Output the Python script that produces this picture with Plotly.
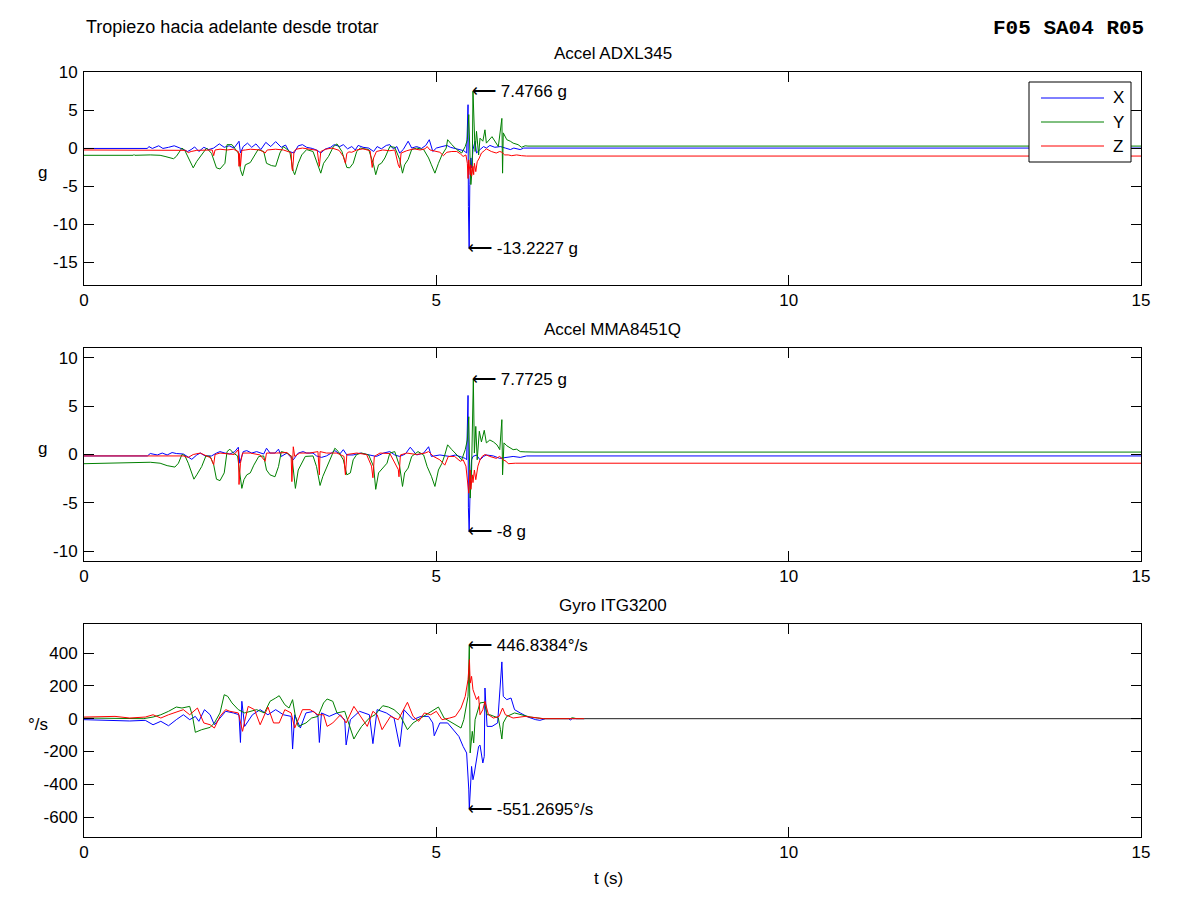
import plotly.graph_objects as go

# ------------------------------------------------------------------
# Data: (time s, value) pairs
# ------------------------------------------------------------------
# Accel ADXL345 (g)
adxl_x = [(0, -0.05), (0.90, -0.05), (0.92, 0.2), (0.97, -0.05), (1.06, 0.3), (1.12, -0.05), (1.20, 0.1),
          (1.28, 0.3), (1.35, 0.05), (1.42, -0.2), (1.47, -0.45), (1.52, -0.2), (1.57, 0.15), (1.63, -0.45),
          (1.70, 0.1), (1.77, -0.2), (1.84, 0.0), (1.92, 0.55), (1.99, 0.1), (2.06, 0.3), (2.13, 0.0),
          (2.20, 0.9), (2.22, -0.65), (2.26, 0.2), (2.32, 0.65), (2.38, 0.1), (2.44, 0.55), (2.51, -0.2),
          (2.58, 0.75), (2.65, 0.2), (2.72, 0.85), (2.80, 0.1), (2.86, 0.4), (2.91, -0.45), (2.98, -0.65),
          (3.04, 0.3), (3.10, 0.45), (3.16, 0.1), (3.24, -0.05), (3.31, -0.3), (3.36, -0.65), (3.42, -0.15),
          (3.50, 0.1), (3.55, 0.45), (3.63, 0.2), (3.68, 0.45), (3.74, -0.1), (3.80, 0.2), (3.85, -0.25),
          (3.89, 0.35), (3.96, 0.1), (4.04, 0.0), (4.11, -0.45), (4.16, 0.2), (4.22, -0.1), (4.29, 0.35),
          (4.34, 0.45), (4.39, -0.1), (4.44, 0.2), (4.48, -0.65), (4.53, -0.2), (4.60, 0.9), (4.65, 0.0),
          (4.72, 0.2), (4.79, -0.05), (4.85, 0.35), (4.90, 1.1), (4.95, -0.45), (5.00, 0.0), (5.08, 0.2),
          (5.15, 0.35), (5.20, 0.1), (5.27, -0.1), (5.34, -0.25), (5.39, -0.35), (5.43, -0.65), (5.45, 5.7),
          (5.455, -7.7), (5.466, -13.2227), (5.475, -4.8), (5.49, -1.3), (5.50, -2.6), (5.52, -0.2),
          (5.55, 0.9), (5.57, -0.65), (5.62, -0.2), (5.67, 0.2), (5.71, 0.0), (5.76, 0.35), (5.83, 0.1),
          (5.91, 0.2), (5.98, 0.0), (6.05, -0.2), (6.10, 0.0), (6.14, -0.1), (6.19, -0.2), (6.24, 0.0),
          (15, 0.0)]
adxl_y = [(0, -0.95), (0.70, -0.95), (0.71, -0.85), (0.72, -0.95), (0.94, -0.9), (1.08, -0.95), (1.15, -1.1),
          (1.27, -1.4), (1.31, -1.1), (1.39, 0.0), (1.43, -0.3), (1.48, -1.3), (1.55, -2.6), (1.60, -1.75),
          (1.67, -0.9), (1.74, 0.0), (1.81, -0.7), (1.88, -2.6), (1.93, -2.75), (2.00, -2.0), (2.03, 0.45),
          (2.10, 0.45), (2.19, -0.65), (2.22, -2.85), (2.25, -3.65), (2.29, -2.2), (2.36, -1.9), (2.41, -1.1),
          (2.47, -0.2), (2.55, -0.45), (2.59, -2.0), (2.66, -2.3), (2.72, -2.4), (2.78, -0.65), (2.83, 0.2),
          (2.92, -0.45), (2.97, -3.05), (2.99, -3.5), (3.04, -2.0), (3.09, -0.9), (3.16, -0.2), (3.25, -0.45),
          (3.33, -2.4), (3.36, -3.3), (3.40, -2.0), (3.47, -1.1), (3.54, 0.2), (3.59, 0.55), (3.66, -0.45),
          (3.73, -2.55), (3.77, -2.6), (3.82, -2.0), (3.87, -0.45), (3.92, 0.0), (4.04, -0.2), (4.11, -2.2),
          (4.14, -3.5), (4.18, -2.2), (4.22, -2.0), (4.27, -1.3), (4.34, 0.2), (4.41, 0.1), (4.48, -1.5),
          (4.52, -3.3), (4.55, -2.2), (4.60, -1.5), (4.65, -0.2), (4.72, 0.0), (4.82, -0.2), (4.89, -1.3),
          (4.93, -2.2), (4.98, -3.3), (5.03, -2.0), (5.08, -0.9), (5.14, 0.0), (5.16, 1.1), (5.22, 0.45),
          (5.29, -0.2), (5.36, -0.65), (5.41, 0.2), (5.44, 1.1), (5.46, 4.4), (5.49, -4.8), (5.51, -2.6),
          (5.52, 7.4766), (5.55, -0.45), (5.57, 2.2), (5.60, -0.9), (5.62, 1.3), (5.66, 0.9), (5.69, 2.4),
          (5.71, 0.65), (5.79, 1.5), (5.83, 0.9), (5.88, 0.2), (5.93, 3.9), (5.94, -3.3), (5.95, 2.0),
          (6.00, 1.1), (6.05, 0.9), (6.09, 0.65), (6.16, 0.45), (6.21, 0.1), (6.26, 0.3), (6.30, 0.26),
          (15, 0.26)]
adxl_z = [(0, -0.25), (0.92, -0.22), (1.10, -0.3), (1.30, -0.25), (1.44, -0.3), (1.48, -0.6), (1.52, -0.45),
          (1.60, -0.3), (1.70, -0.25), (1.82, -0.25), (1.84, -1.0), (1.86, -0.25), (1.93, -0.15), (2.03, -0.25),
          (2.12, -0.15), (2.19, -0.45), (2.20, -2.4), (2.21, -0.7), (2.22, -2.4), (2.24, -0.3), (2.29, -0.25),
          (2.36, -0.15), (2.50, -0.25), (2.57, -0.65), (2.60, -0.25), (2.72, -0.15), (2.83, -0.25), (2.94, -0.6),
          (2.95, -2.6), (2.96, -3.0), (2.98, -0.45), (3.01, -0.15), (3.10, 0.0), (3.20, -0.15), (3.31, -0.3),
          (3.33, -1.75), (3.34, -2.4), (3.36, -0.45), (3.43, -0.15), (3.52, 0.0), (3.62, -0.3), (3.68, -1.1),
          (3.71, -2.0), (3.73, -0.7), (3.76, -0.5), (3.80, -0.55), (3.87, -0.25), (3.96, -0.1), (4.06, -0.35),
          (4.09, -2.55), (4.11, -1.3), (4.15, -0.45), (4.24, -0.25), (4.34, -0.35), (4.41, -0.25), (4.46, -2.2),
          (4.48, -2.6), (4.50, -0.65), (4.58, -0.35), (4.68, -0.1), (4.77, -0.25), (4.84, -0.1), (4.87, 0.2),
          (4.91, -0.25), (4.98, -0.45), (5.05, -0.55), (5.10, -1.0), (5.15, -0.55), (5.22, -0.45), (5.29, -0.45),
          (5.34, -0.75), (5.38, -1.1), (5.42, -0.9), (5.44, -2.0), (5.45, -4.0), (5.46, -1.55), (5.48, -3.5),
          (5.49, -2.2), (5.50, -3.7), (5.52, -2.4), (5.53, -3.5), (5.54, -2.0), (5.56, -3.1), (5.58, -1.8),
          (5.61, -1.3), (5.64, -0.65), (5.68, -0.35), (5.71, -0.1), (5.78, -0.45), (5.85, -0.65), (5.90, -0.45),
          (5.93, -0.55), (5.97, -0.9), (6.02, -0.9), (6.07, -1.0), (6.14, -0.9), (6.21, -1.0), (6.28, -1.05),
          (15, -1.05)]

# Accel MMA8451Q (g)
mma_x = [(0, -0.15), (0.90, -0.15), (0.94, 0.1), (1.04, -0.05), (1.11, 0.15), (1.18, -0.05), (1.25, 0.2),
         (1.31, 0.1), (1.41, 0.05), (1.48, -0.3), (1.53, -0.5), (1.60, -0.05), (1.65, 0.15), (1.72, -0.15),
         (1.81, -0.15), (1.88, 0.15), (1.93, 0.3), (2.00, 0.15), (2.07, 0.05), (2.14, 0.3), (2.19, 0.75),
         (2.21, -0.9), (2.26, 0.3), (2.31, 0.4), (2.38, 0.15), (2.45, 0.3), (2.55, 0.05), (2.59, 0.65),
         (2.64, 0.15), (2.71, 0.15), (2.76, 0.55), (2.80, -0.2), (2.88, 0.15), (2.97, -0.55), (3.04, 0.15),
         (3.11, 0.3), (3.16, 0.15), (3.25, 0.15), (3.30, -0.15), (3.37, -0.3), (3.44, -0.15), (3.51, 0.15),
         (3.56, 0.4), (3.63, 0.05), (3.68, 0.5), (3.73, -0.05), (3.82, -0.05), (3.92, 0.15), (4.06, -0.05),
         (4.15, -0.2), (4.25, 0.15), (4.34, 0.3), (4.41, -0.05), (4.48, -0.2), (4.56, 0.05), (4.63, 0.75),
         (4.72, -0.05), (4.82, 0.15), (4.89, 0.8), (4.93, -0.2), (5.05, -0.05), (5.19, -0.2), (5.27, -0.05),
         (5.34, -0.2), (5.41, -0.4), (5.43, -0.55), (5.45, 6.1), (5.455, -5.5), (5.466, -8.0), (5.48, -3.3),
         (5.50, -0.55), (5.52, -0.2), (5.57, -0.05), (5.62, -0.55), (5.67, -0.2), (5.71, -0.05), (5.81, -0.15),
         (5.90, -0.4), (6.00, -0.3), (6.09, -0.2), (6.19, -0.3), (6.28, -0.15), (15, -0.15)]
mma_y = [(0, -0.95), (0.94, -0.8), (1.08, -0.9), (1.18, -1.15), (1.29, -1.3), (1.34, -0.9), (1.39, 0.0),
         (1.43, -0.1), (1.48, -0.9), (1.53, -1.9), (1.56, -2.55), (1.60, -2.1), (1.67, -1.25), (1.73, -0.15),
         (1.79, -0.2), (1.84, -1.05), (1.88, -2.55), (1.93, -2.7), (1.99, -1.9), (2.03, 0.3), (2.07, 0.55),
         (2.12, 0.15), (2.18, -0.15), (2.21, -1.9), (2.24, -3.5), (2.27, -2.6), (2.31, -2.1), (2.36, -1.9),
         (2.41, -1.1), (2.48, -0.2), (2.55, -0.15), (2.59, -1.6), (2.64, -2.1), (2.71, -2.3), (2.76, -1.25),
         (2.80, 0.3), (2.88, 0.15), (2.95, -0.2), (2.98, -2.6), (3.00, -3.5), (3.04, -1.6), (3.09, -0.9),
         (3.14, -0.2), (3.25, -0.15), (3.30, -1.25), (3.35, -3.2), (3.39, -2.25), (3.44, -1.4), (3.51, -0.2),
         (3.56, 0.65), (3.61, 0.3), (3.68, -0.55), (3.73, -2.1), (3.78, -1.9), (3.82, -0.55), (3.87, 0.0),
         (3.94, 0.15), (4.04, -0.05), (4.11, -1.25), (4.14, -3.6), (4.18, -1.9), (4.22, -1.6), (4.30, -0.9),
         (4.34, 0.15), (4.41, 0.3), (4.48, -1.25), (4.52, -3.3), (4.55, -1.9), (4.60, -1.4), (4.65, -0.2),
         (4.74, 0.3), (4.82, -0.05), (4.87, -1.25), (4.93, -2.25), (4.98, -3.3), (5.03, -1.6), (5.08, -0.9),
         (5.12, -0.05), (5.16, 1.0), (5.22, 0.5), (5.29, -0.05), (5.36, -0.55), (5.41, 0.5), (5.44, 1.5),
         (5.46, 3.9), (5.48, -4.5), (5.50, -1.6), (5.525, 7.7725), (5.54, 0.15), (5.56, 2.9), (5.58, -0.55),
         (5.61, 2.4), (5.64, 1.3), (5.68, 2.5), (5.71, 1.2), (5.76, 1.5), (5.81, 1.3), (5.86, 1.0), (5.90, 0.5),
         (5.93, 3.6), (5.94, -2.1), (5.96, 1.2), (6.00, 0.9), (6.05, 0.65), (6.09, 0.5), (6.14, 0.55),
         (6.19, 0.3), (6.26, 0.27), (6.40, 0.25), (15, 0.25)]
mma_z = [(0, -0.15), (1.41, -0.15), (1.48, -0.3), (1.55, 0.0), (1.65, 0.15), (1.80, -0.35), (1.84, -1.05),
         (1.86, 0.0), (1.93, 0.15), (2.04, 0.05), (2.13, 0.0), (2.19, 0.5), (2.20, -3.1), (2.22, -0.9),
         (2.25, 0.15), (2.36, 0.15), (2.50, -0.05), (2.57, -0.7), (2.59, 0.15), (2.73, 0.15), (2.88, 0.2),
         (2.94, -0.2), (2.95, -2.8), (2.97, 0.8), (2.99, -0.2), (3.06, 0.15), (3.20, 0.15), (3.32, 0.3),
         (3.34, -2.1), (3.35, 0.3), (3.44, 0.15), (3.59, 0.15), (3.69, -0.2), (3.70, -1.4), (3.71, -2.1),
         (3.73, 0.0), (3.87, 0.15), (4.01, 0.0), (4.08, -1.2), (4.10, -2.4), (4.12, -0.2), (4.20, 0.15),
         (4.34, 0.1), (4.46, -1.55), (4.47, -2.3), (4.49, -0.05), (4.58, 0.15), (4.72, 0.0), (4.84, 0.15),
         (4.89, 0.3), (4.96, -0.2), (5.05, -0.55), (5.12, -1.1), (5.17, -0.2), (5.26, -0.2), (5.34, -0.7),
         (5.38, -0.55), (5.42, -1.2), (5.445, -2.6), (5.46, -4.0), (5.48, -1.6), (5.49, -3.6), (5.51, -2.1),
         (5.52, -2.9), (5.54, -1.6), (5.56, -2.6), (5.59, -1.2), (5.62, -0.55), (5.65, -0.2), (5.69, 0.0),
         (5.76, -0.2), (5.85, -0.4), (5.90, -0.2), (5.95, -0.55), (5.99, -0.7), (6.02, -0.95), (6.12, -0.9),
         (6.26, -0.9), (15, -0.9)]

# Gyro ITG3200 (deg/s)
gyro_x = [(0, -6), (0.44, -10), (0.65, -14), (0.87, -10), (0.98, -37), (1.09, -16), (1.20, -43), (1.31, -6),
          (1.41, 24), (1.50, -6), (1.58, 14), (1.63, -16), (1.71, 55), (1.79, 24), (1.85, -37), (1.93, 4),
          (2.01, 45), (2.12, 35), (2.20, 24), (2.22, -145), (2.24, 106), (2.28, -47), (2.39, 24), (2.50, 55),
          (2.61, 24), (2.72, 55), (2.83, 24), (2.94, 14), (2.96, -185), (2.99, 24), (3.07, -57), (3.15, 35),
          (3.26, 45), (3.32, 14), (3.34, -145), (3.37, 35), (3.48, 14), (3.59, 35), (3.70, -6), (3.72, -160),
          (3.78, -6), (3.91, 45), (4.05, 24), (4.10, -152), (4.16, 55), (4.29, 35), (4.40, 4), (4.48, -170),
          (4.54, 55), (4.67, -6), (4.78, 14), (4.89, 14), (4.95, -26), (4.97, -104), (5.05, -26), (5.16, -26),
          (5.24, -67), (5.32, -108), (5.38, -169), (5.43, -209), (5.46, -429), (5.468, -551.2695), (5.50, -291),
          (5.52, -372), (5.54, -331), (5.57, -250), (5.60, -169), (5.62, -161), (5.66, -270), (5.68, -230),
          (5.69, 187), (5.72, -47), (5.79, -47), (5.87, -26), (5.91, 197), (5.93, 346), (5.95, 136), (6.00, 116),
          (6.06, 126), (6.11, 55), (6.19, 35), (6.30, 10), (6.41, -6), (6.47, -10), (6.55, 0), (6.88, 0),
          (6.90, -8), (6.93, 0), (7.1, 0)]
gyro_y = [(0, 4), (0.84, 0), (0.98, 10), (1.09, 24), (1.20, 45), (1.31, 71), (1.39, 65), (1.50, 75), (1.54, 14),
          (1.58, -83), (1.67, -67), (1.79, -53), (1.85, -26), (1.93, 35), (1.99, 146), (2.04, 136), (2.10, 96),
          (2.19, 55), (2.28, 35), (2.39, 45), (2.45, 55), (2.56, 35), (2.64, 106), (2.72, 126), (2.77, 140),
          (2.85, 85), (2.91, 65), (2.96, 116), (3.00, 14), (3.04, -47), (3.15, -26), (3.23, 4), (3.32, 14),
          (3.40, 96), (3.45, 120), (3.53, 106), (3.59, 35), (3.70, 45), (3.75, -16), (3.83, -124), (3.88, -87),
          (3.94, -47), (4.05, 4), (4.13, 24), (4.24, 79), (4.32, 71), (4.40, 55), (4.48, 24), (4.59, -67),
          (4.67, -26), (4.78, 4), (4.89, 35), (5.03, 71), (5.11, 4), (5.22, -26), (5.35, -57), (5.39, -6),
          (5.42, 75), (5.45, 136), (5.468, 446.8384), (5.48, -209), (5.51, -77), (5.53, -148), (5.55, -6),
          (5.59, 55), (5.62, 96), (5.68, 100), (5.72, 24), (5.76, 24), (5.81, 14), (5.88, 4), (5.91, -67),
          (5.93, -124), (5.95, -26), (6.00, 14), (6.11, 35), (6.22, 24), (6.33, 10), (6.44, 4), (6.52, 0),
          (6.90, 0), (6.93, 6), (6.99, 0), (7.1, 0)]
gyro_z = [(0, 10), (0.22, 10), (0.44, 14), (0.65, 4), (0.87, 10), (0.98, 24), (1.09, 4), (1.20, 24), (1.31, 39),
          (1.41, 55), (1.50, 24), (1.61, 65), (1.70, -26), (1.79, -37), (1.85, -57), (1.93, 14), (2.01, 55),
          (2.07, 45), (2.19, 35), (2.25, -77), (2.28, -16), (2.33, 75), (2.42, 55), (2.50, -37), (2.61, 71),
          (2.69, -26), (2.77, -26), (2.85, 55), (2.94, 35), (2.99, -57), (3.10, 55), (3.21, 55), (3.32, 24),
          (3.40, 24), (3.45, -47), (3.53, -26), (3.64, 24), (3.72, -26), (3.83, 75), (3.91, 24), (4.02, -47),
          (4.10, 45), (4.16, 24), (4.23, -67), (4.29, -26), (4.35, 14), (4.46, -6), (4.59, 100), (4.67, 14),
          (4.75, -16), (4.83, 35), (4.92, 24), (5.00, 45), (5.08, -6), (5.19, 4), (5.27, 14), (5.35, 65),
          (5.41, 136), (5.45, 238), (5.47, 360), (5.48, 217), (5.50, 258), (5.52, 177), (5.54, 146), (5.57, 116),
          (5.60, 136), (5.62, 24), (5.66, 55), (5.69, 106), (5.74, 24), (5.81, 4), (5.89, 14), (5.94, 65),
          (5.98, 24), (6.09, 4), (6.26, 14), (6.41, 4), (6.52, 0), (7.1, 0)]
gyro_tail = [(7.1, 0), (15, 0)]

# Text
MAIN_TITLE = "Tropiezo hacia adelante desde trotar"
CODE_TEXT = "F05 SA04 R05"
SUBTITLES = ["Accel ADXL345", "Accel MMA8451Q", "Gyro ITG3200"]
Y_LABELS = ["g", "g", "°/s"]
UNITS = [" g", " g", "°/s"]
SERIES_NAMES = ["X", "Y", "Z"]
X_LABEL = "t (s)"
X_TICKS = [0, 5, 10, 15]
Y_TICKS = [[10, 5, 0, -5, -10, -15], [10, 5, 0, -5, -10], [400, 200, 0, -200, -400, -600]]

PANELS = [[adxl_x, adxl_y, adxl_z], [mma_x, mma_y, mma_z], [gyro_x, gyro_y, gyro_z]]

# ------------------------------------------------------------------
# Styling / layout
# ------------------------------------------------------------------
W, H = 1200, 900
PAGE_OFFSET = 8          # default body margin of the html page
COLORS = ["#0000ff", "#008000", "#ff0000"]
FONT = "Liberation Sans, Arial, Helvetica, sans-serif"
FS = 17
X_RANGE = [0, 15]
Y_RANGES = [[-18, 10], [-11, 11], [-721, 577]]
PLOT_L, PLOT_R = 84, 1141
PLOT_TB = [(72, 285), (348, 561), (624, 837)]


def fx(px):
    return (px - PAGE_OFFSET) / W


def fy(py):
    return 1 - (py - PAGE_OFFSET) / H


def fmt(v):
    return f"{v:.4f}".rstrip("0").rstrip(".")


fig = go.Figure()
annotations = []
shapes = []

for i, series in enumerate(PANELS):
    ax = "" if i == 0 else str(i + 1)
    for s, name, col in zip(series, SERIES_NAMES, COLORS):
        fig.add_trace(go.Scatter(
            x=[p[0] for p in s], y=[p[1] for p in s], mode="lines", name=name,
            line=dict(color=col, width=1), xaxis="x" + ax, yaxis="y" + ax,
            showlegend=False, hoverinfo="skip"))
    if i == 2:
        fig.add_trace(go.Scatter(
            x=[p[0] for p in gyro_tail], y=[p[1] for p in gyro_tail], mode="lines",
            line=dict(color="#202020", width=1), xaxis="x3", yaxis="y3",
            showlegend=False, hoverinfo="skip"))

    top, bot = PLOT_TB[i]
    axis_common = dict(showline=True, linecolor="black", linewidth=1, mirror="ticks",
                       ticks="inside", ticklen=10, tickcolor="black", tickwidth=1,
                       showgrid=False, zeroline=False, automargin=False,
                       tickfont=dict(family=FONT, size=FS, color="black"))
    fig.update_layout(**{
        "xaxis" + ax: dict(domain=[fx(PLOT_L), fx(PLOT_R)], anchor="y" + ax, range=X_RANGE,
                           tickvals=X_TICKS, ticktext=[str(v) for v in X_TICKS],
                           ticklabelstandoff=0, **axis_common),
        "yaxis" + ax: dict(domain=[fy(bot), fy(top)], anchor="x" + ax, range=Y_RANGES[i],
                           tickvals=Y_TICKS[i], ticktext=[str(v) for v in Y_TICKS[i]],
                           ticklabelstandoff=2, **axis_common),
    })

    # subplot title and y label
    annotations.append(dict(x=fx((PLOT_L + PLOT_R) / 2), y=fy(top - 19), xref="paper", yref="paper",
                            text=SUBTITLES[i], showarrow=False, xanchor="center", yanchor="middle",
                            font=dict(family=FONT, size=FS, color="black")))
    annotations.append(dict(x=fx(42 if i < 2 else 38), y=fy((top + bot) / 2 - 6), xref="paper", yref="paper",
                            text=Y_LABELS[i], showarrow=False, xanchor="center", yanchor="middle",
                            font=dict(family=FONT, size=FS, color="black")))

    # peak annotations (max and min over the panel)
    pts = [p for s in series for p in s]
    pmax = max(pts, key=lambda p: p[1])
    pmin = min(pts, key=lambda p: p[1])
    for p in (pmax, pmin):
        annotations.append(dict(x=p[0], y=p[1], xref="x" + ax, yref="y" + ax,
                                text="\u27f5 " + fmt(p[1]) + UNITS[i], showarrow=False,
                                xanchor="left", yanchor="middle", borderpad=0, xshift=-2,
                                font=dict(family=FONT, size=FS, color="black")))

# x label
annotations.append(dict(x=fx(608), y=fy(878), xref="paper", yref="paper", text=X_LABEL, showarrow=False,
                        xanchor="center", yanchor="middle", font=dict(family=FONT, size=FS, color="black")))
# main title and code
annotations.append(dict(x=fx(84), y=fy(27), xref="paper", yref="paper", text=MAIN_TITLE, showarrow=False,
                        xanchor="left", yanchor="middle", font=dict(family=FONT, size=18, color="black")))
annotations.append(dict(x=fx(1146), y=fy(29), xref="paper", yref="paper", text="<b>" + CODE_TEXT + "</b>",
                        showarrow=False, xanchor="right", yanchor="middle",
                        font=dict(family="Liberation Mono, Courier New, monospace", size=21, color="black")))

# legend box drawn in panel 1
LEG_L, LEG_R, LEG_T, LEG_B = 1029, 1131, 82, 162
shapes.append(dict(type="rect", xref="paper", yref="paper", x0=fx(LEG_L), x1=fx(LEG_R), y0=fy(LEG_B),
                   y1=fy(LEG_T), line=dict(color="black", width=1), fillcolor="white", layer="above"))
for k, (name, col) in enumerate(zip(SERIES_NAMES, COLORS)):
    yy = 98 + 24 * k
    shapes.append(dict(type="line", xref="paper", yref="paper", x0=fx(1041), x1=fx(1104), y0=fy(yy), y1=fy(yy),
                       line=dict(color=col, width=1), layer="above"))
    annotations.append(dict(x=fx(1111), y=fy(yy), xref="paper", yref="paper", text=name, showarrow=False,
                            xanchor="left", yanchor="middle", font=dict(family=FONT, size=FS, color="black")))

fig.update_layout(width=W, height=H, margin=dict(l=0, r=0, t=0, b=0), paper_bgcolor="white",
                  plot_bgcolor="white", showlegend=False, annotations=annotations, shapes=shapes)

fig.write_html("out.html")
